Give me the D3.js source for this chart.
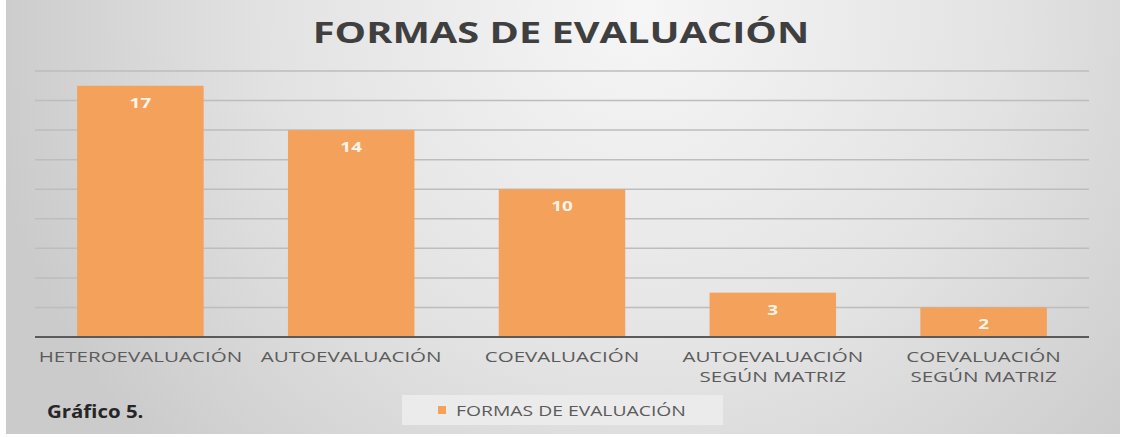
<!DOCTYPE html>
<html>
<head>
<meta charset="utf-8">
<script src="https://cdn.jsdelivr.net/npm/d3@7"></script>
<style>
  body { margin: 0; background: #fff; }
  svg text { font-family: "Open Sans", sans-serif; }
</style>
</head>
<body>
<div id="chart"></div>
<script>
const categories = [
  ["HETEROEVALUACIÓN"],
  ["AUTOEVALUACIÓN"],
  ["COEVALUACIÓN"],
  ["AUTOEVALUACIÓN", "SEGÚN MATRIZ"],
  ["COEVALUACIÓN", "SEGÚN MATRIZ"]
]
const values = [17, 14, 10, 3, 2]
const yTicks = [0, 2, 4, 6, 8, 10, 12, 14, 16, 18]
const title = "FORMAS DE EVALUACIÓN"
const seriesName = "FORMAS DE EVALUACIÓN"
const caption = "Gráfico 5."

const width = 1126
const height = 437
const margin = {left: 35, right: 37}
const orange = "#f3a15b"

const svg = d3.select("#chart").append("svg")
  .attr("width", width)
  .attr("height", height)

// the source image looks stretched sideways, so widen text a bit
function stretch(sel, k) {
  sel.each(function() {
    const w = this.getComputedTextLength()
    d3.select(this)
      .attr("textLength", w * k)
      .attr("lengthAdjust", "spacingAndGlyphs")
  })
}

const defs = svg.append("defs")
const grad = defs.append("radialGradient")
  .attr("id", "bg")
  .attr("gradientUnits", "userSpaceOnUse")
  .attr("cx", 640).attr("cy", 10).attr("r", 660)
grad.append("stop").attr("offset", "0%").attr("stop-color", "#f6f6f6")
grad.append("stop").attr("offset", "55%").attr("stop-color", "#e3e3e3")
grad.append("stop").attr("offset", "100%").attr("stop-color", "#cbcbcb")

svg.append("rect")
  .attr("x", 6).attr("y", 0)
  .attr("width", 1114).attr("height", 434)
  .attr("fill", "url(#bg)")

const x = d3.scaleBand()
  .domain(d3.range(values.length))
  .range([margin.left, width - margin.right])
  .paddingInner(0.4)
  .paddingOuter(0.2)

const y = d3.scaleLinear()
  .domain([0, 18])
  .range([337, 71])

svg.append("g")
  .selectAll("line")
  .data(yTicks.filter(d => d > 0))
  .enter()
  .append("line")
  .attr("x1", margin.left)
  .attr("x2", width - margin.right)
  .attr("y1", d => y(d))
  .attr("y2", d => y(d))
  .attr("stroke", "#bdbdbd")
  .attr("stroke-width", 1.5)

svg.append("g")
  .selectAll("rect")
  .data(values)
  .enter()
  .append("rect")
  .attr("x", (d, i) => x(i))
  .attr("y", d => y(d))
  .attr("width", x.bandwidth())
  .attr("height", d => y(0) - y(d))
  .attr("fill", orange)

const vals = svg.append("g")
  .selectAll("text")
  .data(values)
  .enter()
  .append("text")
  .attr("x", (d, i) => x(i) + x.bandwidth() / 2)
  .attr("y", d => y(d) + 22)
  .attr("text-anchor", "middle")
  .attr("font-size", 14)
  .attr("font-weight", "bold")
  .attr("fill", "#fff4e8")
  .text(d => d)
stretch(vals, 1.35)

svg.append("line")
  .attr("x1", margin.left)
  .attr("x2", width - margin.right)
  .attr("y1", y(0))
  .attr("y2", y(0))
  .attr("stroke", "#5a5a5a")
  .attr("stroke-width", 2)

// two-line labels go in one text element as tspans
const catG = svg.append("g")
categories.forEach((lines, i) => {
  const cx = x(i) + x.bandwidth() / 2
  const txt = catG.append("text")
    .attr("x", cx)
    .attr("y", 361.5)
    .attr("text-anchor", "middle")
    .attr("font-size", 15)
    .attr("fill", "#5b5b5b")
  lines.forEach((s, j) => {
    txt.append("tspan")
      .attr("x", cx)
      .attr("dy", j === 0 ? 0 : 20.6)
      .text(s)
  })
})
stretch(catG.selectAll("tspan"), 1.37)

const t = svg.append("text")
  .attr("x", 561)
  .attr("y", 43)
  .attr("text-anchor", "middle")
  .attr("font-size", 29)
  .attr("font-weight", "bold")
  .attr("fill", "#3f3f3f")
  .text(title)
stretch(t, 1.37)

const legend = svg.append("g")
legend.append("rect")
  .attr("x", 402).attr("y", 395)
  .attr("width", 321).attr("height", 30)
  .attr("fill", "#ebebeb")
legend.append("rect")
  .attr("x", 438).attr("y", 406)
  .attr("width", 8).attr("height", 8)
  .attr("fill", orange)
const lt = legend.append("text")
  .attr("x", 456).attr("y", 416)
  .attr("font-size", 14)
  .attr("fill", "#5b5b5b")
  .text(seriesName)
stretch(lt, 1.38)

const cap = svg.append("text")
  .attr("x", 47).attr("y", 418)
  .attr("font-size", 17)
  .attr("font-weight", "bold")
  .attr("fill", "#262626")
  .text(caption)
stretch(cap, 1.2)
</script>
</body>
</html>
